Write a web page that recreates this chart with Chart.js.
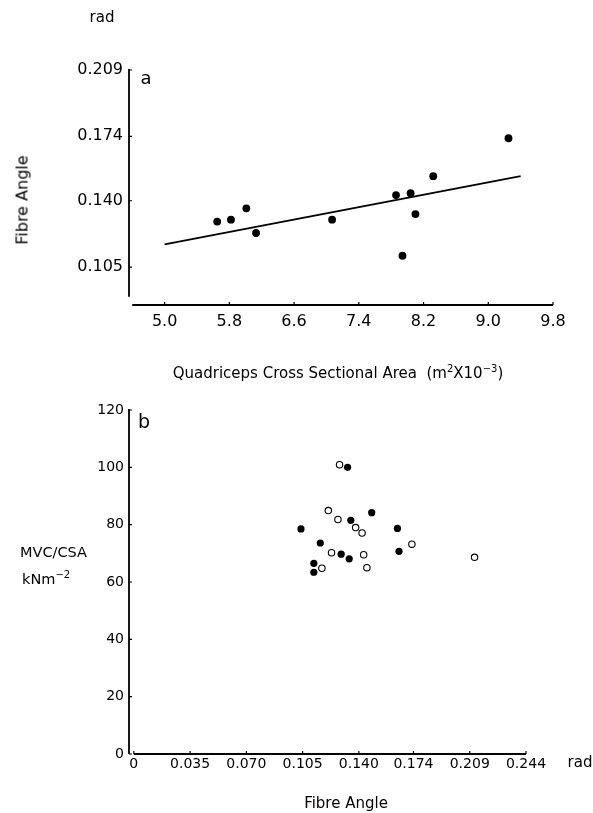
<!DOCTYPE html>
<html>
<head>
<meta charset="utf-8">
<script src="https://cdn.jsdelivr.net/npm/chart.js@4.4.0/dist/chart.umd.min.js"></script>
<style>
  body { margin: 0; background: #fff; }
  #page { position: relative; width: 593px; height: 813px; font-family: "DejaVu Sans", sans-serif; color: #000; }
  canvas { position: absolute; left: 0; }
  .lbl { position: absolute; white-space: nowrap; transform: translate(-50%, -50%); font-size: 15px; }
  sup { font-size: 10px; }
</style>
</head>
<body>
<div id="page">
  <canvas id="chartA" width="593" height="400" style="top:0"></canvas>
  <canvas id="chartB" width="593" height="433" style="top:380px"></canvas>

  <div class="lbl" style="left:102px;top:17px">rad</div>
  <div class="lbl" style="left:146px;top:77px;font-size:18px">a</div>
  <div class="lbl" style="left:22px;top:200px;font-size:16px;transform:translate(-50%,-50%) rotate(-90deg)">Fibre Angle</div>
  <div class="lbl" style="left:338px;top:372px">Quadriceps Cross Sectional Area&nbsp; (m<sup>2</sup>X10<sup>−3</sup>)</div>

  <div class="lbl" style="left:144px;top:421px;font-size:19px">b</div>
  <div class="lbl" style="left:20px;top:552px;font-size:14.5px;transform:translateY(-50%)">MVC/CSA</div>
  <div class="lbl" style="left:22px;top:578px;font-size:14.5px;transform:translateY(-50%)">kNm<sup>−2</sup></div>
  <div class="lbl" style="left:580px;top:762px">rad</div>
  <div class="lbl" style="left:346px;top:803px">Fibre Angle</div>
</div>
<script>
// panel a: fibre angle vs quadriceps CSA
const areaX = [5.65, 5.82, 6.01, 6.13, 7.07, 7.86, 8.04, 8.10, 7.94, 8.32, 9.25]
const angleY = [0.129, 0.130, 0.136, 0.123, 0.130, 0.143, 0.144, 0.133, 0.111, 0.153, 0.173]
const fitX = [5.0, 9.4]
const fitY = [0.117, 0.153]
const areaTicks = [5.0, 5.8, 6.6, 7.4, 8.2, 9.0, 9.8]
const angleTicksA = [0.105, 0.140, 0.174, 0.209]

// panel b: MVC/CSA vs fibre angle
const filledAngle = [0.133, 0.135, 0.148, 0.104, 0.116, 0.129, 0.134, 0.112, 0.112, 0.164, 0.165]
const filledMvc = [100.0, 81.5, 84.2, 78.5, 73.6, 69.7, 68.1, 66.5, 63.4, 78.7, 70.7]
const openAngle = [0.128, 0.121, 0.127, 0.138, 0.142, 0.123, 0.143, 0.117, 0.145, 0.173, 0.212]
const openMvc = [100.9, 84.9, 81.8, 79.0, 77.1, 70.2, 69.5, 64.8, 65.0, 73.2, 68.6]
const angleTicksB = [0, 0.035, 0.070, 0.105, 0.140, 0.174, 0.209, 0.244]
const mvcTicks = [0, 20, 40, 60, 80, 100, 120]

function pts(xs, ys) {
    return xs.map((x, i) => ({ x: x, y: ys[i] }))
}

// axis lines drawn apart from each other, like the original plot
const axisLines = {
    id: "axisLines",
    afterDraw(chart, args, opts) {
        const ctx = chart.ctx
        const area = chart.chartArea
        const xs = chart.scales.x
        const ys = chart.scales.y
        ctx.save()
        ctx.strokeStyle = "#000"
        ctx.lineWidth = 1.8
        ctx.beginPath()
        ctx.moveTo(area.left, area.top - 1)
        ctx.lineTo(area.left, ys.getPixelForValue(opts.yStop))
        ctx.moveTo(xs.getPixelForValue(opts.xStart), area.bottom)
        ctx.lineTo(area.right, area.bottom)
        ctx.stroke()
        ctx.lineWidth = 1.2
        ctx.beginPath()
        ys.ticks.forEach(t => {
            const p = ys.getPixelForValue(t.value)
            ctx.moveTo(area.left, p)
            ctx.lineTo(area.left + 3, p)
        })
        xs.ticks.forEach(t => {
            const p = xs.getPixelForValue(t.value)
            ctx.moveTo(p, area.bottom)
            ctx.lineTo(p, area.bottom - 3)
        })
        ctx.stroke()
        ctx.restore()
    }
}

const tickFont = size => ({ family: "DejaVu Sans", size: size })

new Chart(document.getElementById("chartA"), {
    type: "scatter",
    data: {
        datasets: [{
            data: pts(areaX, angleY),
            backgroundColor: "#000",
            borderWidth: 0,
            pointRadius: 3.9
        }, {
            type: "line",
            data: pts(fitX, fitY),
            borderColor: "#000",
            borderWidth: 1.8,
            pointRadius: 0,
            fill: false
        }]
    },
    options: {
        responsive: false,
        animation: false,
        layout: { padding: { left: 0, top: 70, right: 40, bottom: 0 } },
        plugins: {
            legend: { display: false },
            tooltip: { enabled: false },
            axisLines: { yStop: 0.0894, xStart: 4.6 }
        },
        scales: {
            x: {
                type: "linear", min: 4.56, max: 9.8,
                grid: { display: false, drawTicks: false },
                border: { display: false },
                afterBuildTicks: s => { s.ticks = areaTicks.map(v => ({ value: v })) },
                afterFit: s => { s.height = 95 },
                ticks: { padding: 7, color: "#000", font: tickFont(16), maxRotation: 0, autoSkip: false,
                    callback: v => v.toFixed(1) }
            },
            y: {
                type: "linear", min: 0.085, max: 0.209,
                grid: { display: false, drawTicks: false },
                border: { display: false },
                afterBuildTicks: s => { s.ticks = angleTicksA.map(v => ({ value: v })) },
                afterFit: s => { s.width = 129 },
                ticks: { padding: 6, color: "#000", font: tickFont(16), autoSkip: false,
                    callback: v => v.toFixed(3) }
            }
        }
    },
    plugins: [axisLines]
})

new Chart(document.getElementById("chartB"), {
    type: "scatter",
    data: {
        datasets: [{
            data: pts(openAngle, openMvc),
            backgroundColor: "#fff",
            borderColor: "#000",
            borderWidth: 1.1,
            pointRadius: 3.2
        }, {
            data: pts(filledAngle, filledMvc),
            backgroundColor: "#000",
            borderWidth: 0,
            pointRadius: 3.6
        }]
    },
    options: {
        responsive: false,
        animation: false,
        layout: { padding: { left: 0, top: 30, right: 67, bottom: 0 } },
        plugins: {
            legend: { display: false },
            tooltip: { enabled: false },
            axisLines: { yStop: 0, xStart: 0 }
        },
        scales: {
            x: {
                type: "linear", min: -0.003, max: 0.244,
                grid: { display: false, drawTicks: false },
                border: { display: false },
                afterBuildTicks: s => { s.ticks = angleTicksB.map(v => ({ value: v })) },
                afterFit: s => { s.height = 59 },
                ticks: { padding: 2, color: "#000", font: tickFont(14), maxRotation: 0, autoSkip: false,
                    callback: v => v === 0 ? "0" : v.toFixed(3) }
            },
            y: {
                type: "linear", min: 0, max: 120,
                grid: { display: false, drawTicks: false },
                border: { display: false },
                afterBuildTicks: s => { s.ticks = mvcTicks.map(v => ({ value: v })) },
                afterFit: s => { s.width = 129 },
                ticks: { padding: 5, color: "#000", font: tickFont(14), autoSkip: false }
            }
        }
    },
    plugins: [axisLines]
})
</script>
</body>
</html>
